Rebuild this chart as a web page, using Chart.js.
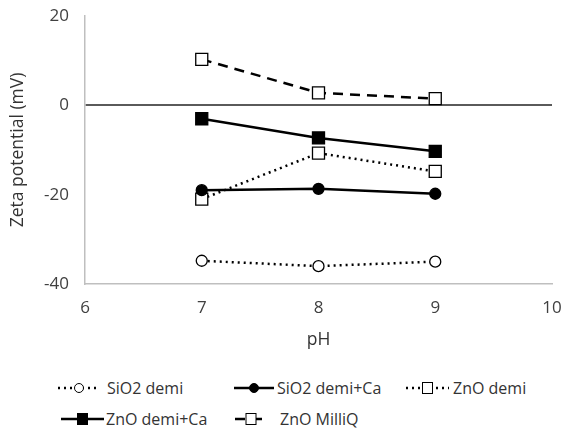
<!DOCTYPE html>
<html lang="en">
<head>
    <meta charset="UTF-8">
    <title>Zeta potential vs pH</title>
    <script src="https://cdn.jsdelivr.net/npm/chart.js"></script>
    <style>
        body {
            margin: 0;
            background: #fff;
            font-family: "Open Sans", Arial, sans-serif;
        }

        .wrap {
            position: relative;
            width: 565px;
            height: 432px;
        }

        .chart-box {
            position: absolute;
            left: 0;
            top: 0;
            width: 565px;
            height: 360px;
        }

        .legend-item {
            position: absolute;
            height: 20px;
            font-size: 16px;
            line-height: 20px;
            color: #333;
            white-space: nowrap;
        }

        .legend-item svg {
            position: absolute;
            left: 0;
            top: 0;
        }

        .legend-item span {
            position: absolute;
            top: 0;
        }
    </style>
</head>
<body>
    <div class="wrap">
        <div class="chart-box">
            <canvas id="zetaChart"></canvas>
        </div>
        <div id="legend"></div>
    </div>

    <script>
        // pH values measured
        const phValues = [7, 8, 9];

        // zeta potential (mV) per sample
        const sio2Demi = [-34.8, -36.0, -35.0];
        const sio2DemiCa = [-19.0, -18.7, -19.8];
        const znoDemi = [-21.0, -10.7, -14.8];
        const znoDemiCa = [-3.0, -7.3, -10.3];
        const znoMilliQ = [10.3, 2.8, 1.5];

        const xTicks = [6, 7, 8, 9, 10];
        const yTicks = [-40, -20, 0, 20];

        function points(vals) {
            return vals.map((v, i) => ({ x: phValues[i], y: v }));
        }

        const series = [
            { label: "SiO2 demi", data: sio2Demi, dash: [2, 4], marker: "circle", fill: "#fff" },
            { label: "SiO2 demi+Ca", data: sio2DemiCa, dash: [], marker: "circle", fill: "#000" },
            { label: "ZnO demi", data: znoDemi, dash: [2, 4], marker: "rect", fill: "#fff" },
            { label: "ZnO demi+Ca", data: znoDemiCa, dash: [], marker: "rect", fill: "#000" },
            { label: "ZnO MilliQ", data: znoMilliQ, dash: [10, 7], marker: "rect", fill: "#fff" }
        ];

        const datasets = series.map(s => ({
            label: s.label,
            data: points(s.data),
            borderColor: "#000",
            borderWidth: 2.5,
            borderDash: s.dash,
            pointStyle: s.marker,
            pointRadius: s.marker === "rect" ? 8.5 : 5.5,
            pointBackgroundColor: s.fill,
            pointBorderColor: "#000",
            pointBorderWidth: 1.3,
            tension: 0
        }));

        const canvas = document.getElementById("zetaChart");

        new Chart(canvas, {
            type: "line",
            data: { datasets: datasets },
            options: {
                responsive: true,
                maintainAspectRatio: false,
                animation: false,
                layout: { padding: { top: 16, right: 13, bottom: 0, left: 0 } },
                plugins: {
                    legend: { display: false },
                    tooltip: { enabled: false }
                },
                scales: {
                    x: {
                        type: "linear",
                        min: 6,
                        max: 10,
                        afterBuildTicks: axis => { axis.ticks = xTicks.map(v => ({ value: v })); },
                        afterFit: axis => {
                            axis.height = 76;
                            axis.paddingLeft = 0;
                            axis.paddingRight = 0;
                        },
                        grid: { display: false, drawTicks: false },
                        border: { color: "#bfbfbf", width: 1.5 },
                        ticks: {
                            color: "#404040",
                            font: { family: "Open Sans", size: 17 },
                            padding: 14
                        },
                        title: {
                            display: true,
                            text: "pH",
                            color: "#333",
                            font: { family: "Open Sans", size: 17.5 },
                            padding: { top: 0, bottom: 9 }
                        }
                    },
                    y: {
                        min: -40,
                        max: 20,
                        afterBuildTicks: axis => { axis.ticks = yTicks.map(v => ({ value: v })); },
                        afterFit: axis => {
                            axis.width = 85;
                            axis.paddingTop = 0;
                            axis.paddingBottom = 0;
                        },
                        grid: {
                            drawTicks: false,
                            lineWidth: 2,
                            color: ctx => ctx.tick && ctx.tick.value === 0 ? "#5a5a5a" : "rgba(0,0,0,0)"
                        },
                        border: { color: "#bfbfbf", width: 1.5 },
                        ticks: {
                            color: "#404040",
                            font: { family: "Open Sans", size: 17 },
                            padding: 16
                        },
                        title: {
                            display: true,
                            text: "Zeta potential (mV)",
                            color: "#333",
                            font: { family: "Open Sans", size: 17.5 },
                            padding: { top: 8, bottom: 0 }
                        }
                    }
                }
            }
        });

        // legend with line + marker samples; left = sample start, w = sample width, tx = text start
        const legendPos = [
            { left: 57, top: 378, w: 44, tx: 107 },
            { left: 233, top: 378, w: 42, tx: 277 },
            { left: 405, top: 378, w: 45, tx: 453 },
            { left: 60, top: 409, w: 45, tx: 106 },
            { left: 234, top: 409, w: 34, tx: 280 }
        ];

        function sampleSvg(s, w) {
            const dash = s.dash.length ? `stroke-dasharray="${s.dash[0]},${s.dash[1]}"` : "";
            const cx = w / 2;
            let mark;
            if (s.marker === "circle") {
                mark = `<circle cx="${cx}" cy="10" r="4.5" fill="${s.fill}" stroke="#000" stroke-width="1"/>`;
            } else {
                mark = `<rect x="${cx - 5}" y="4.5" width="10" height="11" fill="${s.fill}" stroke="#000" stroke-width="1"/>`;
            }
            return `<svg width="${w}" height="20"><line x1="1" y1="10" x2="${w - 1}" y2="10" stroke="#000" stroke-width="2.5" ${dash}/>${mark}</svg>`;
        }

        const legendEl = document.getElementById("legend");
        series.forEach((s, i) => {
            const p = legendPos[i];
            const item = document.createElement("div");
            item.className = "legend-item";
            item.style.left = p.left + "px";
            item.style.top = p.top + "px";
            item.innerHTML = sampleSvg(s, p.w) + `<span style="left:${p.tx - p.left}px">${s.label}</span>`;
            legendEl.appendChild(item);
        });
    </script>
</body>
</html>
